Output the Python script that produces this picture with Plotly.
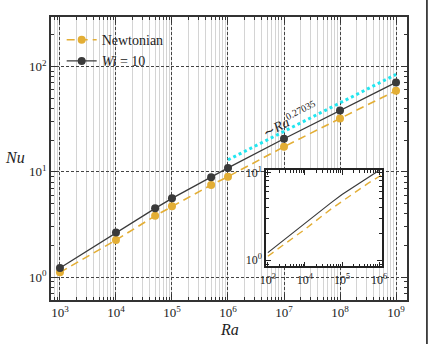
import plotly.graph_objects as go

# ---- data ----
ra = [1e3, 1e4, 5e4, 1e5, 5e5, 1e6, 1e7, 1e8, 1e9]
nu_newtonian = [1.11, 2.25, 3.82, 4.7, 7.5, 9.0, 17.3, 32.1, 59.0]
nu_wi10 = [1.22, 2.66, 4.5, 5.6, 8.9, 10.9, 20.6, 38.2, 70.6]
fit_ra = [1e6, 1e9]
fit_prefactor = 0.31
fit_exponent = 0.27035
fit_nu = [fit_prefactor * r ** fit_exponent for r in fit_ra]

x_tickvals = [1e3, 1e4, 1e5, 1e6, 1e7, 1e8, 1e9]
x_ticktext = ["10<sup>3</sup>", "10<sup>4</sup>", "10<sup>5</sup>", "10<sup>6</sup>",
              "10<sup>7</sup>", "10<sup>8</sup>", "10<sup>9</sup>"]
y_tickvals = [1, 10, 100]
y_ticktext = ["10<sup>0</sup>", "10<sup>1</sup>", "10<sup>2</sup>"]
inset_x_tickvals = [1e3, 1e4, 1e5, 1e6]
inset_x_ticktext = ["10<sup>3</sup>", "10<sup>4</sup>", "10<sup>5</sup>", "10<sup>6</sup>"]
inset_y_tickvals = [1, 10]
inset_y_ticktext = ["10<sup>0</sup>", "10<sup>1</sup>"]

ORANGE = "#E3AE35"
DARK = "#3A3A3A"
CYAN = "#22E6F0"
FONT = "Liberation Serif"

fig = go.Figure()

fig.add_trace(go.Scatter(x=ra, y=nu_newtonian, name="Newtonian", mode="lines+markers",
                         line=dict(color=ORANGE, width=1.6, dash="8px,5px"),
                         marker=dict(color=ORANGE, size=8)))
fig.add_trace(go.Scatter(x=ra, y=nu_wi10, name="<i>Wi</i> = 10", mode="lines+markers",
                         line=dict(color=DARK, width=1.3),
                         marker=dict(color=DARK, size=8)))
fig.add_trace(go.Scatter(x=fit_ra, y=fit_nu, mode="lines", showlegend=False,
                         line=dict(color=CYAN, width=3, dash="dot")))

# inset
fig.add_trace(go.Scatter(x=ra, y=nu_newtonian, mode="lines", showlegend=False,
                         line=dict(color=ORANGE, width=1.4, dash="7px,5px"),
                         xaxis="x2", yaxis="y2"))
fig.add_trace(go.Scatter(x=ra, y=nu_wi10, mode="lines", showlegend=False,
                         line=dict(color=DARK, width=1.2),
                         xaxis="x2", yaxis="y2"))

axis_common = dict(type="log", ticks="inside", mirror="allticks", showline=True,
                   linecolor="#333", linewidth=1.5, tickcolor="#333",
                   tickfont=dict(family=FONT, size=13, color="#222"))

fig.update_layout(
    width=430, height=344,
    margin=dict(l=51, r=23, t=15, b=44),
    paper_bgcolor="white", plot_bgcolor="white",
    font=dict(family=FONT, size=13, color="#222"),
    showlegend=True,
    legend=dict(x=0.03, y=0.975, xanchor="left", yanchor="top",
                bgcolor="rgba(0,0,0,0)", font=dict(family=FONT, size=14),
                tracegroupgap=0),
    xaxis=dict(**axis_common, range=[2.84, 9.196], tickvals=x_tickvals, ticktext=x_ticktext,
               ticklen=6, showgrid=True, gridcolor="#444", griddash="3px,2px", gridwidth=0.8,
               minor=dict(ticks="inside", ticklen=3, tickcolor="#333", dtick="D1",
                          showgrid=True, gridcolor="#d4d4d4", gridwidth=0.8, griddash="solid")),
    yaxis=dict(**axis_common, range=[-0.217, 2.47], tickvals=y_tickvals, ticktext=y_ticktext,
               ticklen=6, showgrid=True, gridcolor="#444", griddash="3px,2px", gridwidth=0.8,
               minor=dict(ticks="inside", ticklen=3, tickcolor="#333", dtick="D1",
                          showgrid=False)),
    xaxis2=dict(type="log", ticks="inside", mirror="allticks", showline=True,
                linecolor="#222", linewidth=1.5, tickcolor="#222",
                tickfont=dict(family=FONT, size=12, color="#222"),
                domain=[0.604, 0.930], anchor="y2", range=[2.95, 6.08],
                tickvals=inset_x_tickvals, ticktext=inset_x_ticktext, ticklen=5,
                showgrid=False, ticklabelstandoff=2,
                minor=dict(ticks="inside", ticklen=3, tickcolor="#222", dtick="D1", showgrid=False)),
    yaxis2=dict(type="log", ticks="inside", mirror="allticks", showline=True,
                linecolor="#222", linewidth=1.5, tickcolor="#222",
                tickfont=dict(family=FONT, size=12, color="#222"),
                domain=[0.119, 0.460], anchor="x2", range=[-0.07, 1.03],
                tickvals=inset_y_tickvals, ticktext=inset_y_ticktext, ticklen=5,
                showgrid=False,
                minor=dict(ticks="inside", ticklen=3, tickcolor="#222", dtick="D1", showgrid=False)),
    shapes=[
        dict(type="rect", xref="x2 domain", yref="y2 domain", x0=0, x1=1, y0=0, y1=1,
             fillcolor="white", line=dict(width=0), layer="below"),
        dict(type="line", xref="paper", yref="paper", x0=1.056, x1=1.056, y0=-0.16, y1=1.06,
             line=dict(color="#111", width=1.5), layer="above"),
    ],
    annotations=[
        dict(text="<i>Nu</i>", xref="paper", yref="paper", x=-0.10, y=0.505,
             xanchor="center", yanchor="middle",
             showarrow=False, font=dict(family=FONT, size=16)),
        dict(text="<i>Ra</i>", xref="paper", yref="paper", x=0.5, y=-0.105,
             xanchor="center", yanchor="middle",
             showarrow=False, font=dict(family=FONT, size=16)),
        dict(text="\u223c<i>Ra</i><sup>0.27035</sup>", x=7.11, y=1.50, xref="x", yref="y",
             xanchor="center", yanchor="middle",
             showarrow=False, textangle=-27, font=dict(family=FONT, size=14)),
    ],
)

fig.write_html("out.html")
